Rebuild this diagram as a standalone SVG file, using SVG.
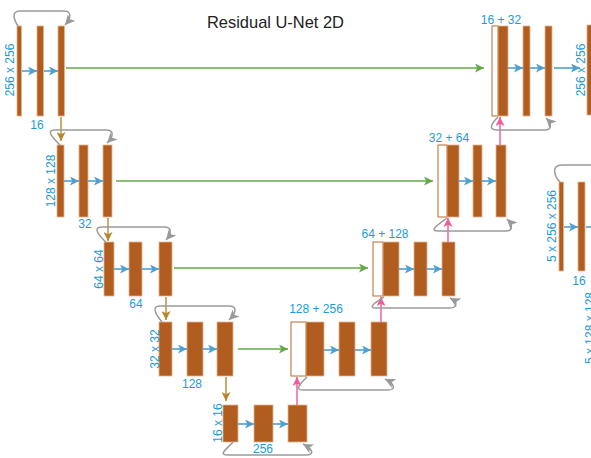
<svg xmlns="http://www.w3.org/2000/svg" width="591" height="458" viewBox="0 0 591 458">
<style>
.bar{fill:#b15d20;stroke:#e6b48c;stroke-width:0.8}
.cat{fill:#ffffff;stroke:#b8682c;stroke-width:1}
.lbl{font-family:"Liberation Sans",Arial,sans-serif;font-size:12px;fill:#1e9ad6;text-anchor:middle}
.title{font-family:"Liberation Sans",Arial,sans-serif;font-size:17px;fill:#222222;text-anchor:middle}
.blue{stroke:#4f9fd0;stroke-width:1.6;fill:none;marker-end:url(#mb)}
.green{stroke:#65a84a;stroke-width:1.3;fill:none;marker-end:url(#mg)}
.gray{stroke:#9a9a9a;stroke-width:1.5;fill:none;marker-end:url(#mk)}
.pink{stroke:#ee5a9c;stroke-width:1.4;fill:none;marker-end:url(#mp)}
.gold{stroke:#b8862f;stroke-width:1.4;fill:none;marker-end:url(#mo)}
</style>
<defs>
<marker id="mb" viewBox="0 0 10 10" refX="10" refY="5" markerWidth="9" markerHeight="9" orient="auto" markerUnits="userSpaceOnUse"><path d="M0,0 L10,5 L0,10 L2.5,5 z" fill="#4f9fd0"/></marker>
<marker id="mg" viewBox="0 0 10 10" refX="10" refY="5" markerWidth="9" markerHeight="9" orient="auto" markerUnits="userSpaceOnUse"><path d="M0,0 L10,5 L0,10 L2.5,5 z" fill="#65a84a"/></marker>
<marker id="mk" viewBox="0 0 10 10" refX="10" refY="5" markerWidth="10" markerHeight="10" orient="auto" markerUnits="userSpaceOnUse"><path d="M0,0 L10,5 L0,10 L2.5,5 z" fill="#9a9a9a"/></marker>
<marker id="mp" viewBox="0 0 10 10" refX="10" refY="5" markerWidth="9" markerHeight="9" orient="auto" markerUnits="userSpaceOnUse"><path d="M0,0 L10,5 L0,10 L2.5,5 z" fill="#ee5a9c"/></marker>
<marker id="mo" viewBox="0 0 10 10" refX="10" refY="5" markerWidth="9" markerHeight="9" orient="auto" markerUnits="userSpaceOnUse"><path d="M0,0 L10,5 L0,10 L2.5,5 z" fill="#b8862f"/></marker>
</defs>
<rect width="591" height="458" fill="#ffffff"/>
<text class="title" x="275.5" y="28" textLength="137" lengthAdjust="spacingAndGlyphs">Residual U-Net 2D</text>

<g id="enc1">
<rect class="bar" x="17" y="26" width="4.5" height="90"/>
<rect class="bar" x="37" y="26" width="6.5" height="90"/>
<rect class="bar" x="58" y="26" width="6.5" height="90"/>
<text class="lbl" transform="translate(14.3,70) rotate(-90)">256 x 256</text>
<text class="lbl" x="37" y="129">16</text>
</g>
<g id="enc2">
<rect class="bar" x="57" y="145" width="7" height="72"/>
<rect class="bar" x="79" y="145" width="9" height="72"/>
<rect class="bar" x="103" y="145" width="9" height="72"/>
<text class="lbl" transform="translate(54.5,181) rotate(-90)">128 x 128</text>
<text class="lbl" x="85" y="228">32</text>
</g>
<g id="enc3">
<rect class="bar" x="104" y="242" width="10" height="54"/>
<rect class="bar" x="129" y="242" width="13" height="54"/>
<rect class="bar" x="159" y="242" width="13" height="54"/>
<text class="lbl" transform="translate(102.5,269) rotate(-90)">64 x 64</text>
<text class="lbl" x="136" y="308">64</text>
</g>
<g id="enc4">
<rect class="bar" x="159" y="322" width="13" height="54"/>
<rect class="bar" x="187" y="322" width="16" height="54"/>
<rect class="bar" x="217" y="322" width="16" height="54"/>
<text class="lbl" transform="translate(158.5,349) rotate(-90)">32 x 32</text>
<text class="lbl" x="192" y="388">128</text>
</g>
<g id="bottleneck">
<rect class="bar" x="223" y="405" width="15" height="37"/>
<rect class="bar" x="254" y="405" width="19" height="37"/>
<rect class="bar" x="288" y="405" width="19" height="37"/>
<text class="lbl" transform="translate(221.5,423) rotate(-90)">16 x 16</text>
<text class="lbl" x="263" y="453">256</text>
</g>
<g id="dec4">
<rect class="cat" x="291" y="322" width="15" height="54"/>
<rect class="bar" x="306" y="322" width="18" height="54"/>
<rect class="bar" x="339" y="322" width="16" height="54"/>
<rect class="bar" x="371" y="322" width="16" height="54"/>
<text class="lbl" x="316" y="313">128 + 256</text>
</g>
<g id="dec3">
<rect class="cat" x="373" y="242" width="10" height="54"/>
<rect class="bar" x="383" y="242" width="16" height="54"/>
<rect class="bar" x="414" y="242" width="13" height="54"/>
<rect class="bar" x="442" y="242" width="13" height="54"/>
<text class="lbl" x="385" y="238">64 + 128</text>
</g>
<g id="dec2">
<rect class="cat" x="438" y="145" width="9" height="72"/>
<rect class="bar" x="447" y="145" width="12" height="72"/>
<rect class="bar" x="473" y="145" width="9" height="72"/>
<rect class="bar" x="496" y="145" width="10" height="72"/>
<text class="lbl" x="449" y="142">32 + 64</text>
</g>
<g id="dec1">
<rect class="cat" x="492" y="26" width="6" height="90"/>
<rect class="bar" x="498" y="26" width="10" height="90"/>
<rect class="bar" x="523" y="26" width="7" height="90"/>
<rect class="bar" x="545" y="26" width="7" height="90"/>
<text class="lbl" x="501" y="24">16 + 32</text>
</g>
<g id="output">
<rect class="bar" x="587" y="25" width="6" height="90"/>
<text class="lbl" transform="translate(584.5,70) rotate(-90)">256 x 256</text>
</g>
<g id="net2">
<rect class="bar" x="559" y="182" width="4.5" height="89"/>
<rect class="bar" x="578" y="182" width="7" height="89"/>
<text class="lbl" transform="translate(555.5,226) rotate(-90)">5 x 256 x 256</text>
<text class="lbl" x="579" y="285">16</text>
<text class="lbl" transform="translate(594,328) rotate(-90)">5 x 128 x 128</text>
</g>

<g id="connectors">
<!-- blue conv arrows -->
<line class="blue" x1="22" y1="71" x2="37" y2="71"/>
<line class="blue" x1="44" y1="71" x2="58" y2="71"/>
<line class="blue" x1="64" y1="181" x2="79" y2="181"/>
<line class="blue" x1="88" y1="181" x2="103" y2="181"/>
<line class="blue" x1="114" y1="269" x2="129" y2="269"/>
<line class="blue" x1="142" y1="269" x2="159" y2="269"/>
<line class="blue" x1="172" y1="349" x2="187" y2="349"/>
<line class="blue" x1="203" y1="349" x2="217" y2="349"/>
<line class="blue" x1="238" y1="424" x2="254" y2="424"/>
<line class="blue" x1="273" y1="424" x2="288" y2="424"/>
<line class="blue" x1="324" y1="350" x2="339" y2="350"/>
<line class="blue" x1="355" y1="350" x2="371" y2="350"/>
<line class="blue" x1="399" y1="269" x2="414" y2="269"/>
<line class="blue" x1="427" y1="269" x2="442" y2="269"/>
<line class="blue" x1="459" y1="181" x2="473" y2="181"/>
<line class="blue" x1="482" y1="181" x2="496" y2="181"/>
<line class="blue" x1="508" y1="68" x2="523" y2="68"/>
<line class="blue" x1="530" y1="68" x2="545" y2="68"/>
<line class="blue" x1="554" y1="68" x2="580" y2="68"/>
<line class="blue" x1="564" y1="227" x2="578" y2="227"/>
<line stroke="#4f9fd0" stroke-width="1.6" x1="586" y1="227" x2="591" y2="227"/>
<!-- green skip connections -->
<line class="green" x1="66" y1="68" x2="484" y2="68"/>
<line class="green" x1="116" y1="181" x2="433" y2="181"/>
<line class="green" x1="174" y1="268" x2="368" y2="268"/>
<line class="green" x1="238" y1="349" x2="288" y2="349"/>
<!-- gold downsampling -->
<line class="gold" x1="61" y1="117" x2="61" y2="141"/>
<line class="gold" x1="108" y1="218" x2="108" y2="241"/>
<line class="gold" x1="166" y1="297" x2="166" y2="320"/>
<line class="gold" x1="226" y1="377" x2="226" y2="401"/>
<!-- pink upsampling -->
<line class="pink" x1="297" y1="405" x2="297" y2="377"/>
<line class="pink" x1="381" y1="322" x2="381" y2="297"/>
<line class="pink" x1="448" y1="242" x2="448" y2="218"/>
<line class="pink" x1="500" y1="145" x2="500" y2="117"/>
<!-- gray residual arcs -->
<path class="gray" d="M18,26 C14,20 11,11 20,11 L64,11 C71,11 72,17 65,25"/>
<path class="gray" d="M60,145 C53,138 45,130 55,130 L106,130 C114,130 114,136 107,143"/>
<path class="gray" d="M106,242 C99,236 92,227 102,227 L164,227 C172,227 172,233 166,240"/>
<path class="gray" d="M162,322 C157,316 150,306 160,306 L229,306 C237,306 237,312 229,320"/>
<path class="gray" d="M233,442 C228,448 217,455 228,455 L306,455 C314,455 314,450 303,444"/>
<path class="gray" d="M307,377 C302,382 293,390 303,390 L388,390 C396,390 395,384 385,379"/>
<path class="gray" d="M384,297 C378,301 366,308 376,308 L450,308 C458,308 457,302 450,298"/>
<path class="gray" d="M447,218 C442,222 427,231 438,231 L506,231 C513,231 513,225 507,219"/>
<path class="gray" d="M498,117 C494,121 486,130 497,130 L545,130 C552,130 552,124 546,118"/>
<path stroke="#9a9a9a" stroke-width="1.5" fill="none" d="M560,182 C555,177 550,165 562,165 L595,165"/>
</g>
</svg>
